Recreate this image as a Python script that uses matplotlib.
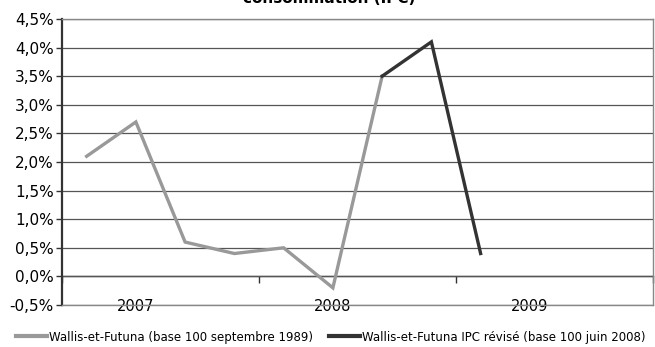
import numpy as np
import matplotlib
matplotlib.use("Agg")
import matplotlib.pyplot as plt
from matplotlib.ticker import FuncFormatter
from matplotlib.lines import Line2D

# Data (quarterly, 2007-2009)
periods = ['2007T1', '2007T2', '2007T3', '2007T4',
           '2008T1', '2008T2', '2008T3', '2008T4',
           '2009T1', '2009T2', '2009T3', '2009T4']
year_labels = ['2007', '2008', '2009']
year_label_idx = [1, 5, 9]

old_idx = [0, 1, 2, 3, 4, 5, 6]
old_vals = [2.1, 2.7, 0.6, 0.4, 0.5, -0.2, 3.5]
new_idx = [6, 7, 8]
new_vals = [3.5, 4.1, 0.4]

old_name = 'Wallis-et-Futuna (base 100 septembre 1989)'
new_name = 'Wallis-et-Futuna IPC révisé (base 100 juin 2008)'
title = 'consommation (IPC)'

plt.rcParams['font.family'] = ['DejaVu Sans']

fig = plt.figure(figsize=(6.55, 3.47), dpi=100)
ax = fig.add_axes([62 / 655, 1 - 305 / 347, 591 / 655, 286 / 347])

ax.plot(old_idx, old_vals, color='#999999', lw=2.4, solid_joinstyle='miter', zorder=3)
ax.plot(new_idx, new_vals, color='#333333', lw=2.4, solid_joinstyle='miter', zorder=4)

ax.set_xlim(-0.5, len(periods) - 0.5)
ax.set_ylim(-0.5, 4.5)
ax.set_yticks(np.arange(-0.5, 4.51, 0.5))
ax.yaxis.set_major_formatter(FuncFormatter(lambda v, p: ('%.1f%%' % v).replace('.', ',')))
ax.tick_params(axis='y', labelsize=11, length=4, width=1, color='#333333', pad=2)
ax.grid(axis='y', color='#555555', lw=0.9)
ax.set_axisbelow(True)

ax.set_xticks(year_label_idx)
ax.set_xticklabels(year_labels)
ax.tick_params(axis='x', length=0, labelsize=10.5, pad=-4)

for s in ['top', 'right', 'bottom']:
    ax.spines[s].set_color('#888888')
    ax.spines[s].set_linewidth(1)
ax.spines['left'].set_color('#333333')
ax.spines['left'].set_linewidth(1.6)

# category axis crossing at 0 %
sec = ax.secondary_xaxis(0.1)
sec.set_xticks([-0.5, 3.5, 7.5, 11.5])
sec.set_xticklabels([])
sec.tick_params(length=5, width=1, color='#333333', direction='out')
sec.spines['bottom'].set_color('#333333')
sec.spines['bottom'].set_linewidth(1)

# title is mostly cut off by the top edge, as in the source image
fig.text(0.502, 1 - 3 / 347, title, ha='center', va='baseline',
         fontsize=11, fontweight='bold')

handles = [Line2D([], [], color='#999999', lw=3), Line2D([], [], color='#333333', lw=3)]
fig.legend(handles, [old_name, new_name], loc='center', bbox_to_anchor=(0.505, 1 - 337 / 347),
           ncol=2, frameon=False, fontsize=8.5, handlelength=2.6, handletextpad=0.15,
           columnspacing=1.4, borderpad=0.2)

fig.savefig('out.png', dpi=100)
